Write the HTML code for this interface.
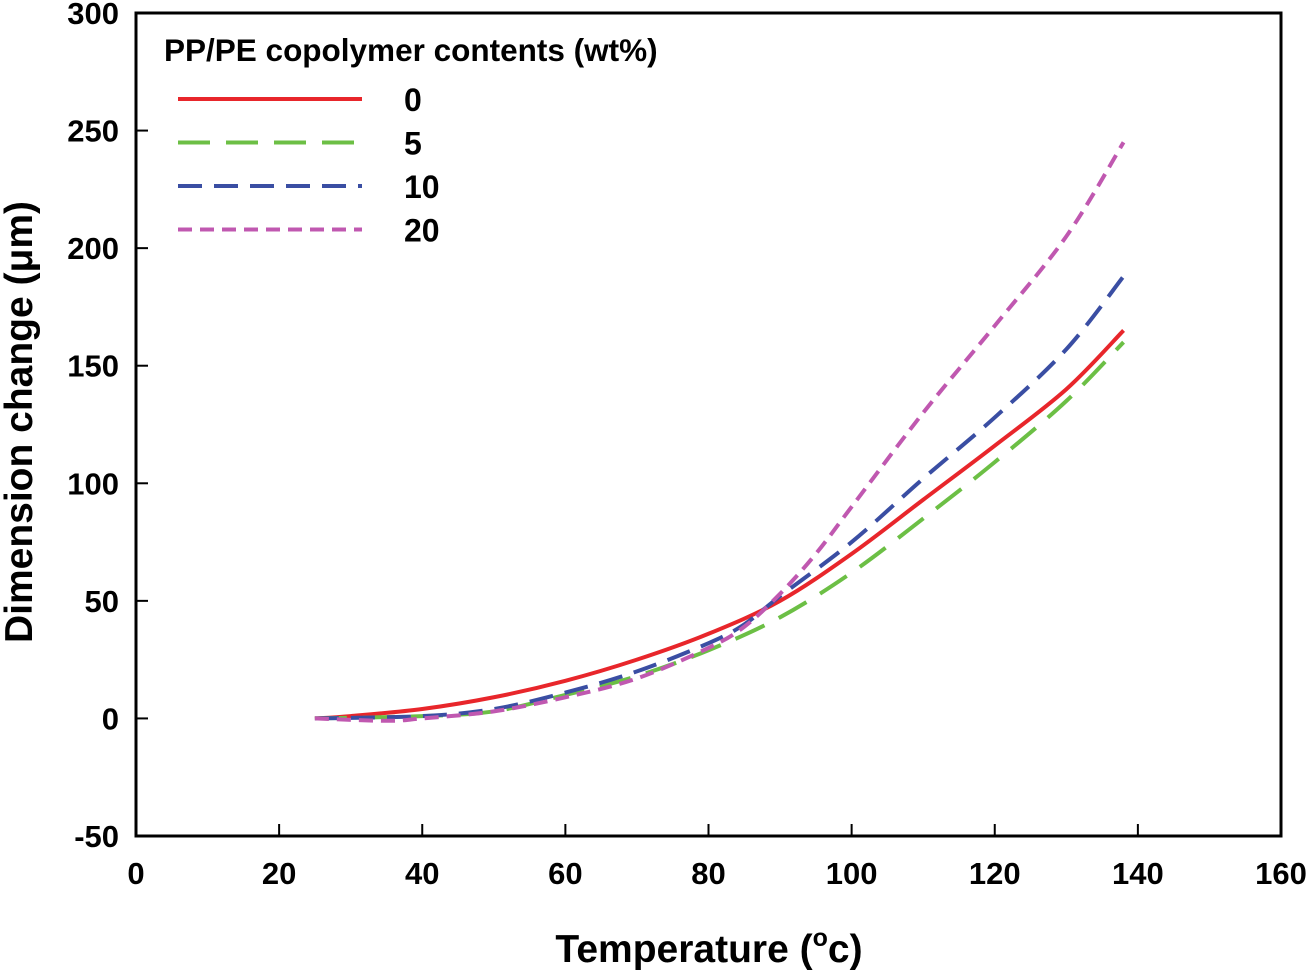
<!DOCTYPE html>
<html><head><meta charset="utf-8"><style>
html,body{margin:0;padding:0;background:#fff;}
svg{display:block;font-family:"Liberation Sans",Arial,sans-serif;font-weight:bold;}
</style></head><body>
<svg width="1307" height="972" viewBox="0 0 1307 972">
<g id="axes"></g><g id="series"></g><g id="legend"></g>
</svg>
<script>
const xTicks=[0,20,40,60,80,100,120,140,160];
const yTicks=[-50,0,50,100,150,200,250,300];
const temps0=[25,30,40,50,60,70,80,90,100,110,120,130,138];
const vals0=[0,1,4,9,16,25,36,50,70,93,116,140,165];
const temps5=[25,40,50,60,70,80,90,100,110,120,130,138];
const vals5=[0,1,3,10,18,29,43,62,85,109,135,160];
const temps10=[25,40,50,60,70,80,85,90,100,110,120,130,138];
const vals10=[0,1,4,11,20,32,40,52,75,102,128,157,188];
const temps20=[25,35,40,50,60,70,80,85,90,95,100,110,120,130,138];
const vals20=[0,-1,0,3,9,17,30,39,53,70,90,130,167,205,245];
const seriesNames=["0","5","10","20"];
const NS="http://www.w3.org/2000/svg";
const X0=136,X1=1281,Y0=836,Y1=13;
const xs=v=>X0+(v-0)/160*(X1-X0);
const ys=v=>Y0-(v+50)/350*(Y0-Y1);
function mk(tag,attrs,parent){const e=document.createElementNS(NS,tag);for(const k in attrs)e.setAttribute(k,attrs[k]);parent.appendChild(e);return e;}
const axes=document.getElementById('axes');
const frame=mk('rect',{x:X0,y:Y1,width:X1-X0,height:Y0-Y1,fill:'none',stroke:'#000','stroke-width':3},axes);


xTicks.forEach(t=>{
 const l=mk('line',{x1:xs(t),x2:xs(t),y1:Y0,y2:Y0-12,stroke:'#000','stroke-width':2},axes);
 
 
 const tx=mk('text',{x:xs(t),y:884,'text-anchor':'middle','font-size':31},axes);tx.textContent=t;
 
 
});
yTicks.forEach(t=>{
 const l=mk('line',{x1:X0,x2:X0+12,y1:ys(t),y2:ys(t),stroke:'#000','stroke-width':2},axes);
 
 
 const tx=mk('text',{x:119,y:ys(t)+11,'text-anchor':'end','font-size':31},axes);tx.textContent=t;
 
 
});
const xt=mk('text',{x:709,y:962,'text-anchor':'middle','font-size':39},axes);
xt.innerHTML='Temperature (<tspan dy="-16" font-size="25">o</tspan><tspan dy="16">c)</tspan>';


const yt=mk('text',{x:0,y:0,'text-anchor':'middle','font-size':39,transform:'translate(32,422) rotate(-90)'},axes);
yt.textContent='Dimension change (\u03bcm)';


const styles=[{c:'#e8262b',d:''},{c:'#6cbf45',d:'32 16'},{c:'#3a4ea3',d:'24 12'},{c:'#c058b0',d:'14 8'}];
const data=[[temps0,vals0],[temps5,vals5],[temps10,vals10],[temps20,vals20]];
const sg=document.getElementById('series');
function smooth(px){let d='M'+px[0][0]+','+px[0][1];for(let i=0;i<px.length-1;i++){const p0=px[Math.max(0,i-1)],p1=px[i],p2=px[i+1],p3=px[Math.min(px.length-1,i+2)];const c1=[p1[0]+(p2[0]-p0[0])/6,p1[1]+(p2[1]-p0[1])/6],c2=[p2[0]-(p3[0]-p1[0])/6,p2[1]-(p3[1]-p1[1])/6];d+=` C${c1[0]},${c1[1]} ${c2[0]},${c2[1]} ${p2[0]},${p2[1]}`;}return d;}
data.forEach((s,i)=>{
 const px=s[0].map((t,j)=>[xs(t),ys(s[1][j])]);
 const p=mk('path',{d:smooth(px),fill:'none',stroke:styles[i].c,'stroke-width':4,'stroke-dasharray':styles[i].d},sg);
 
 
});
const lg=document.getElementById('legend');
const lt=mk('text',{x:164,y:61,'font-size':31.5},lg);lt.textContent='PP/PE copolymer contents (wt%)';


seriesNames.forEach((n,i)=>{
 const y=99+i*43.5;
 const l=mk('line',{x1:178,x2:362,y1:y,y2:y,stroke:styles[i].c,'stroke-width':4,'stroke-dasharray':styles[i].d},lg);
 
 
 const t=mk('text',{x:404,y:y+12,'font-size':32},lg);t.textContent=n;
 
 
});
</script>
</body></html>
